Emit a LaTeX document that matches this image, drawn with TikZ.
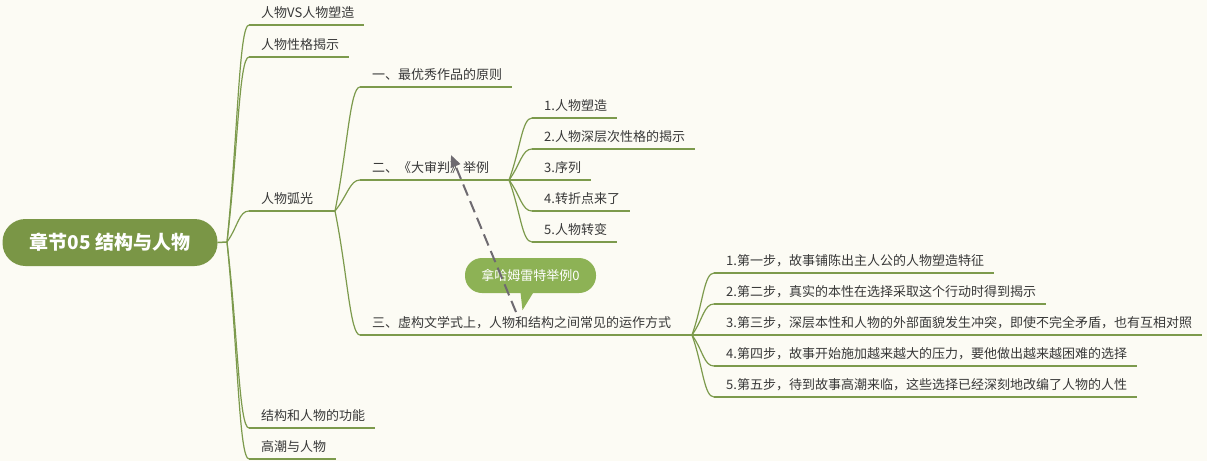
\documentclass[tikz,border=0pt]{standalone}
\usepackage{fontspec}
\setmainfont{Noto Sans CJK SC}
\usetikzlibrary{calc,arrows.meta}
\definecolor{paper}{HTML}{FCFBF4}
\definecolor{branchgreen}{HTML}{7C9A4C}
\definecolor{rootgreen}{HTML}{7A9646}
\definecolor{notegreen}{HTML}{8DB255}
\definecolor{inkgray}{HTML}{383838}
\definecolor{relgray}{HTML}{6E6A70}

\tikzset{
    topic/.style={anchor=south west, inner xsep=12pt, inner ysep=4.5pt, text height=10pt, text depth=2.5pt,
        font=\fontsize{13pt}{15pt}\selectfont, text=inkgray},
    branch/.style={draw=branchgreen, line width=1.2pt},
    mapcurve/.style={to path={.. controls ($(\tikztostart)!0.5!(\tikztotarget)$) and ($(\tikztotarget)+(-10,0)$) .. (\tikztotarget)}},
    rootbox/.style={fill=rootgreen, text=white, rounded corners=23pt, minimum width=215pt, minimum height=47pt,
        inner sep=0pt, font=\fontsize{19pt}{22pt}\selectfont\bfseries},
    note/.style={fill=notegreen, text=white, rounded corners=17pt, minimum width=131pt, minimum height=35pt,
        inner sep=0pt, font=\fontsize{13pt}{15pt}\selectfont},
    relation/.style={draw=relgray, line width=2pt, dash pattern=on 12pt off 6pt, -{Triangle[length=12pt, width=10pt]}}
}

\begin{document}
\begin{tikzpicture}[x=1pt, y=-1pt]
        \fill[paper] (0, 0) rectangle (1207, 461);
        \useasboundingbox (0, 0) rectangle (1207, 461);

        \node[rootbox] (root) at (110, 242.5) {章节05\ 结构与人物};
        \coordinate (hub0) at (227, 242);
        \draw[branch, line width=1.5pt] (root.east) -- (hub0);

        \node[topic] (vs) at (249, 25) {人物VS人物塑造};
        \node[topic] (reveal) at (249, 57) {人物性格揭示};
        \node[topic] (arc) at (249, 211) {人物弧光};
        \node[topic] (func) at (249, 428) {结构和人物的功能};
        \node[topic] (climax) at (249, 459) {高潮与人物};
        \coordinate (hub1) at (335, 211);

        \node[topic] (best) at (360, 87) {一、最优秀作品的原则};
        \node[topic] (trial) at (360, 180) {二、《大审判》举例};
        \node[topic] (mode) at (360, 335) {三、虚构文学式上，人物和结构之间常见的运作方式};
        \coordinate (hub2) at (509, 180);
        \coordinate (hub3) at (692, 335);

        \node[topic] (ta) at (532, 118) {1.人物塑造};
        \node[topic] (tb) at (532, 149) {2.人物深层次性格的揭示};
        \node[topic] (tc) at (532, 180) {3.序列};
        \node[topic] (td) at (532, 211) {4.转折点来了};
        \node[topic] (te) at (532, 242) {5.人物转变};

        \node[topic] (ma) at (714, 273) {1.第一步，故事铺陈出主人公的人物塑造特征};
        \node[topic] (mb) at (714, 304) {2.第二步，真实的本性在选择采取这个行动时得到揭示};
        \node[topic] (mc) at (714, 335) {3.第三步，深层本性和人物的外部面貌发生冲突，即使不完全矛盾，也有互相对照};
        \node[topic] (md) at (714, 366) {4.第四步，故事开始施加越来越大的压力，要他做出越来越困难的选择};
        \node[topic] (me) at (714, 397) {5.第五步，待到故事高潮来临，这些选择已经深刻地改编了人物的人性};

        \foreach \t in {vs, reveal, arc, func, climax}
            \draw[branch] (hub0) to[mapcurve] (\t.south west);
        \foreach \t in {best, trial, mode}
            \draw[branch] (hub1) to[mapcurve] (\t.south west);
        \foreach \t in {ta, tb, tc, td, te}
            \draw[branch] (hub2) to[mapcurve] (\t.south west);
        \foreach \t in {ma, mb, mc, md, me}
            \draw[branch] (hub3) to[mapcurve] (\t.south west);

        \draw[branch] (arc.south west) -- (hub1);
        \draw[branch] (trial.south west) -- (hub2);
        \draw[branch] (mode.south west) -- (hub3);
        \foreach \t in {vs, reveal, func, climax, best, ta, tb, tc, td, te, ma, mb, mc, md, me}
            \draw[branch] (\t.south west) -- ([xshift=-2pt]\t.south east);

        \node[note] (ham) at (530.5, 275.5) {拿哈姆雷特举例0};
        \fill[notegreen] ([xshift=-10pt, yshift=1pt]ham.south) -- ([xshift=3pt, yshift=1pt]ham.south)
            -- ([xshift=-8pt, yshift=-17pt]ham.south) -- cycle;

        \coordinate (relS) at (516, 312);
        \coordinate (relE) at (451, 155);
        \draw[relation] (relS) -- (relE);
    \end{tikzpicture}
\end{document}
